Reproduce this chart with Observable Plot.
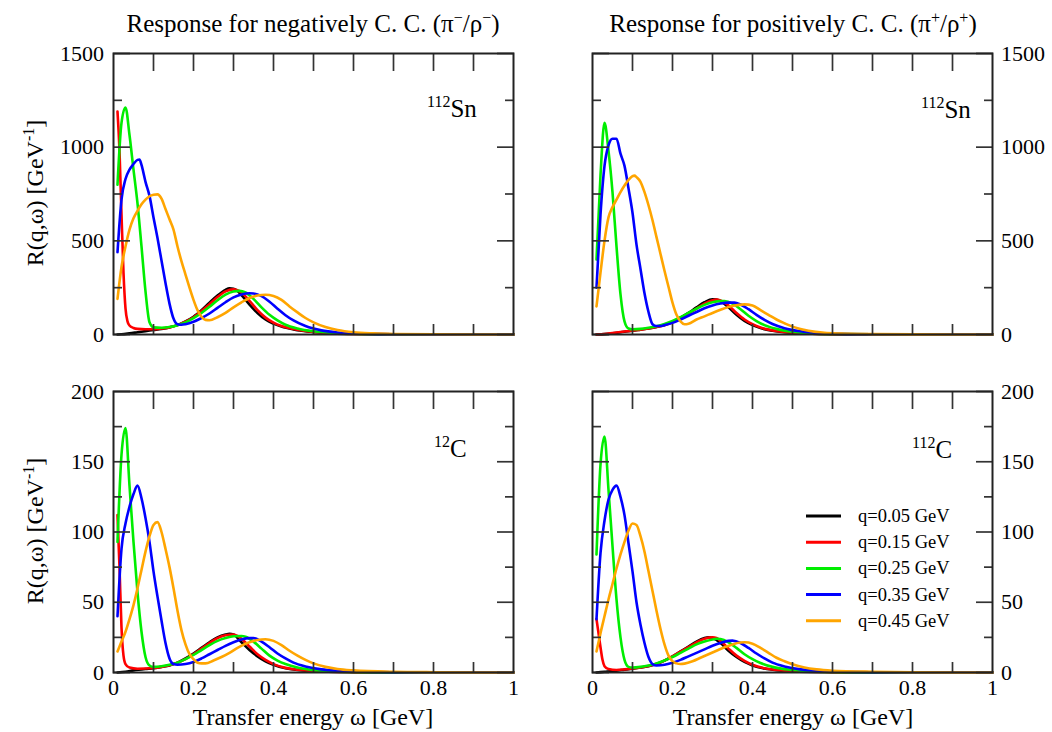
<!DOCTYPE html>
<html>
<head>
<meta charset="utf-8">
<script src="https://cdn.jsdelivr.net/npm/d3@7"></script>
<script src="https://cdn.jsdelivr.net/npm/@observablehq/plot@0.6"></script>
<style>
  html, body { margin: 0; padding: 0; background: #fff; }
  #chart { position: relative; width: 1052px; height: 732px; overflow: hidden; background: #fff; }
  #chart > svg { position: absolute; max-width: none; }
</style>
</head>
<body>
<div id="chart"></div>
<script>
// ---------------- categories ----------------
const qLabels = ["q=0.05 GeV", "q=0.15 GeV", "q=0.25 GeV", "q=0.35 GeV", "q=0.45 GeV"];
const lineColors = ["#000000", "#ff0000", "#00ee00", "#0000ff", "#ffa500"];

// ---------------- axis ticks ----------------
const xMajor = [0, 0.2, 0.4, 0.6, 0.8, 1];
const xAllTicks = [0.1, 0.2, 0.3, 0.4, 0.5, 0.6, 0.7, 0.8, 0.9];
const ySnMajor = [0, 500, 1000, 1500];
const ySnMinor = [250, 750, 1250];
const yCMajor = [0, 50, 100, 150, 200];
const yCMinor = [25, 75, 125, 175];

// ---------------- texts ----------------
const titleNeg = [["Response for negatively C. C. (π"], ["−", 1], ["/ρ"], ["−", 1], [")"]];
const titlePos = [["Response for positively C. C. (π"], ["+", 1], ["/ρ"], ["+", 1], [")"]];
const yLabel = [["R(q,ω) [GeV"], ["-1", 1], ["]"]];
const xLabel = "Transfer energy ω [GeV]";
const nucleusSn = [["112", 1], ["Sn"]];
const nucleusC12 = [["12", 1], ["C"]];
const nucleusC112 = [["112", 1], ["C"]];

// ---------------- series: negatively charged, 112Sn  [ω (GeV), R (GeV^-1)] ----------------
const negSn_q005 = [[0.01,0],[0.02,1],[0.04,6],[0.06,12],[0.08,18],[0.10,24],[0.12,30],[0.14,38],[0.16,50],[0.18,70],[0.20,95],[0.22,130],[0.24,170],[0.26,208],[0.28,238],[0.29,246],[0.30,244],[0.31,232],[0.32,210],[0.34,160],[0.36,115],[0.38,80],[0.40,58],[0.42,42],[0.45,27],[0.50,13],[0.55,6],[0.60,3],[0.70,1],[0.80,0.3],[1.0,0]];
const negSn_q015 = [[0.01,1190],[0.015,980],[0.02,640],[0.025,330],[0.03,140],[0.035,70],[0.04,48],[0.05,35],[0.06,30],[0.08,28],[0.10,28],[0.12,32],[0.14,38],[0.16,50],[0.18,68],[0.20,92],[0.22,125],[0.24,162],[0.26,200],[0.28,230],[0.30,241],[0.31,236],[0.32,224],[0.34,180],[0.36,130],[0.38,90],[0.40,63],[0.42,45],[0.45,29],[0.50,14],[0.55,7],[0.60,3],[0.70,1],[0.80,0.3],[1.0,0]];
const negSn_q025 = [[0.01,800],[0.02,1130],[0.03,1212],[0.04,1065],[0.05,880],[0.06,700],[0.07,470],[0.08,230],[0.09,65],[0.10,38],[0.12,36],[0.14,40],[0.16,50],[0.18,65],[0.20,88],[0.22,115],[0.24,148],[0.26,183],[0.28,213],[0.30,230],[0.315,233],[0.33,224],[0.35,190],[0.37,145],[0.39,105],[0.41,75],[0.43,52],[0.46,32],[0.50,17],[0.55,8],[0.60,4],[0.70,1],[0.80,0.3],[1.0,0]];
const negSn_q035 = [[0.01,440],[0.02,720],[0.03,830],[0.04,880],[0.05,910],[0.06,932],[0.065,934],[0.07,905],[0.08,815],[0.09,740],[0.10,625],[0.11,515],[0.12,395],[0.13,275],[0.14,165],[0.15,85],[0.16,55],[0.17,52],[0.18,55],[0.20,68],[0.22,88],[0.24,112],[0.26,142],[0.28,172],[0.30,198],[0.32,214],[0.34,220],[0.35,219],[0.37,205],[0.39,175],[0.41,138],[0.43,103],[0.45,75],[0.48,45],[0.52,22],[0.56,11],[0.60,6],[0.70,1.5],[0.80,0.5],[1.0,0]];
const negSn_q045 = [[0.01,190],[0.02,360],[0.03,470],[0.04,560],[0.05,620],[0.06,660],[0.07,695],[0.08,720],[0.09,738],[0.10,746],[0.11,748],[0.12,725],[0.13,670],[0.14,615],[0.15,560],[0.16,470],[0.17,390],[0.18,320],[0.19,250],[0.20,185],[0.21,130],[0.22,95],[0.23,78],[0.24,76],[0.26,92],[0.28,115],[0.30,145],[0.32,172],[0.34,195],[0.36,208],[0.38,212],[0.40,206],[0.42,185],[0.44,150],[0.46,118],[0.48,88],[0.50,65],[0.53,40],[0.56,24],[0.60,12],[0.65,6],[0.70,3],[0.80,1],[1.0,0]];

// ---------------- series: positively charged, 112Sn ----------------
const posSn_q005 = [[0.01,0],[0.03,2],[0.05,6],[0.08,15],[0.10,20],[0.12,26],[0.14,32],[0.16,40],[0.18,52],[0.20,68],[0.22,90],[0.24,115],[0.26,145],[0.28,172],[0.30,188],[0.31,187],[0.32,178],[0.34,145],[0.36,105],[0.38,72],[0.40,50],[0.42,34],[0.45,20],[0.50,9],[0.55,4],[0.60,2],[0.70,0.5],[1.0,0]];
const posSn_q015 = [[0.01,0],[0.03,3],[0.05,8],[0.08,16],[0.10,21],[0.12,26],[0.14,32],[0.16,40],[0.18,50],[0.20,65],[0.22,86],[0.24,110],[0.26,138],[0.28,165],[0.30,183],[0.31,186],[0.32,182],[0.34,155],[0.36,115],[0.38,80],[0.40,55],[0.42,37],[0.45,22],[0.50,10],[0.55,4],[0.60,2],[0.70,0.5],[1.0,0]];
const posSn_q025 = [[0.01,400],[0.02,850],[0.03,1130],[0.04,980],[0.05,760],[0.06,470],[0.07,214],[0.08,70],[0.09,32],[0.10,28],[0.12,30],[0.14,36],[0.16,44],[0.18,56],[0.20,72],[0.22,92],[0.24,115],[0.26,138],[0.28,158],[0.30,172],[0.32,178],[0.33,178],[0.35,165],[0.37,135],[0.39,100],[0.41,72],[0.43,50],[0.46,30],[0.50,15],[0.55,6],[0.60,3],[0.70,1],[1.0,0]];
const posSn_q035 = [[0.01,250],[0.02,640],[0.03,900],[0.04,1010],[0.05,1045],[0.06,1045],[0.07,965],[0.08,900],[0.09,780],[0.10,650],[0.11,480],[0.12,350],[0.13,220],[0.14,120],[0.15,55],[0.16,45],[0.17,45],[0.18,50],[0.20,62],[0.22,80],[0.24,100],[0.26,120],[0.28,140],[0.30,155],[0.32,165],[0.34,170],[0.355,170],[0.37,160],[0.39,135],[0.41,105],[0.43,78],[0.45,56],[0.48,34],[0.52,17],[0.56,8],[0.60,4],[0.70,1],[1.0,0]];
const posSn_q045 = [[0.01,150],[0.02,330],[0.03,500],[0.04,625],[0.05,680],[0.06,720],[0.07,760],[0.08,795],[0.09,825],[0.10,845],[0.105,848],[0.11,840],[0.12,815],[0.13,760],[0.14,690],[0.15,610],[0.16,520],[0.17,430],[0.18,340],[0.19,255],[0.20,170],[0.21,105],[0.22,70],[0.23,55],[0.24,58],[0.26,80],[0.28,97],[0.30,115],[0.32,132],[0.34,147],[0.36,156],[0.38,161],[0.40,155],[0.42,130],[0.44,105],[0.46,80],[0.48,60],[0.50,42],[0.54,20],[0.58,9],[0.62,5],[0.70,2],[0.80,0.5],[1.0,0]];

// ---------------- series: negatively charged, 12C ----------------
const negC_q005 = [[0.01,0],[0.03,0.5],[0.05,1.5],[0.08,2.5],[0.10,3],[0.12,4],[0.14,5],[0.16,7],[0.18,10],[0.20,13.5],[0.22,17.5],[0.24,21.5],[0.26,25],[0.28,27],[0.29,27.5],[0.30,27],[0.32,21.5],[0.34,16],[0.36,11.5],[0.38,8],[0.40,5.5],[0.43,3],[0.46,1.8],[0.50,0.9],[0.60,0.3],[0.70,0.1],[1.0,0]];
const negC_q015 = [[0.01,112],[0.015,75],[0.02,32],[0.025,12],[0.03,6],[0.04,3.5],[0.06,2.7],[0.08,2.8],[0.10,3.2],[0.12,4],[0.14,5.2],[0.16,7],[0.18,9.5],[0.20,13],[0.22,17],[0.24,21],[0.26,24.5],[0.28,26.5],[0.30,27],[0.31,26],[0.32,24],[0.34,18.5],[0.36,13],[0.38,9],[0.40,6],[0.43,3.3],[0.46,2],[0.50,1],[0.60,0.3],[0.70,0.1],[1.0,0]];
const negC_q025 = [[0.01,93],[0.02,155],[0.03,174],[0.04,133],[0.05,93],[0.06,57],[0.07,29],[0.08,11],[0.09,5],[0.10,4],[0.12,4.5],[0.14,5.5],[0.16,7],[0.18,9.5],[0.20,12.5],[0.22,16],[0.24,19.5],[0.26,22.5],[0.28,24.5],[0.30,25.8],[0.32,26],[0.33,25.5],[0.35,22],[0.37,17],[0.39,12],[0.41,8.5],[0.43,6],[0.46,3.5],[0.50,1.7],[0.55,0.8],[0.60,0.4],[0.70,0.1],[1.0,0]];
const negC_q035 = [[0.01,40],[0.02,88],[0.03,106],[0.04,118],[0.05,127],[0.06,133],[0.07,124],[0.08,110],[0.09,93],[0.10,72],[0.11,54],[0.12,37],[0.13,21],[0.14,10],[0.15,6],[0.16,5.5],[0.18,6],[0.20,7.5],[0.22,10],[0.24,13],[0.26,16],[0.28,19],[0.30,21.5],[0.32,23.5],[0.34,24.5],[0.35,24.5],[0.37,22],[0.39,18],[0.41,13.5],[0.43,10],[0.45,7],[0.48,4.3],[0.52,2.2],[0.56,1.2],[0.60,0.7],[0.70,0.2],[1.0,0]];
const negC_q045 = [[0.01,15],[0.02,22],[0.03,29],[0.04,38],[0.05,48],[0.06,60],[0.07,73],[0.08,86],[0.09,97],[0.10,105],[0.11,107],[0.12,100],[0.13,88],[0.14,75],[0.15,60],[0.16,44],[0.17,30],[0.18,20],[0.19,13],[0.20,9.5],[0.21,7],[0.22,6.5],[0.23,6.5],[0.25,8.5],[0.27,11],[0.29,14],[0.31,17.5],[0.33,20.5],[0.35,22.5],[0.37,23.5],[0.38,23.7],[0.40,22.5],[0.42,19.5],[0.44,15.5],[0.46,12],[0.48,9],[0.50,6.5],[0.53,4],[0.56,2.5],[0.60,1.5],[0.70,0.5],[0.80,0.2],[1.0,0]];

// ---------------- series: positively charged, 112C ----------------
const posC_q005 = [[0.01,0],[0.03,0.5],[0.05,1],[0.08,2],[0.10,2.7],[0.12,3.5],[0.14,4.5],[0.16,6],[0.18,8.5],[0.20,11.5],[0.22,15],[0.24,18.5],[0.26,22],[0.28,24.5],[0.29,25],[0.30,24.5],[0.32,21],[0.34,15.5],[0.36,11],[0.38,7.5],[0.40,5],[0.43,2.8],[0.46,1.6],[0.50,0.8],[0.60,0.3],[0.70,0.1],[1.0,0]];
const posC_q015 = [[0.01,38],[0.015,28],[0.02,18],[0.025,9],[0.03,4.5],[0.04,2.5],[0.06,1.8],[0.08,2.2],[0.10,2.8],[0.12,3.6],[0.14,4.7],[0.16,6.2],[0.18,8.5],[0.20,11.5],[0.22,14.8],[0.24,18],[0.26,21.5],[0.28,24],[0.30,25],[0.31,24.5],[0.32,22.5],[0.34,17],[0.36,12],[0.38,8.3],[0.40,5.5],[0.43,3],[0.46,1.8],[0.50,0.9],[0.60,0.3],[0.70,0.1],[1.0,0]];
const posC_q025 = [[0.01,84],[0.02,148],[0.03,168],[0.04,130],[0.05,90],[0.06,52],[0.07,25],[0.08,9],[0.09,4],[0.10,3.5],[0.12,4],[0.14,5],[0.16,6.5],[0.18,8.5],[0.20,11],[0.22,14],[0.24,17],[0.26,20],[0.28,22],[0.30,23.5],[0.31,24],[0.32,23.8],[0.34,21.5],[0.36,17.5],[0.38,13],[0.40,9.5],[0.42,6.8],[0.45,4],[0.50,1.8],[0.55,0.8],[0.60,0.4],[0.70,0.1],[1.0,0]];
const posC_q035 = [[0.01,38],[0.02,85],[0.03,108],[0.04,123],[0.05,130],[0.06,133],[0.07,125],[0.08,112],[0.09,92],[0.10,72],[0.11,50],[0.12,34],[0.13,21],[0.14,11],[0.15,6],[0.16,5],[0.18,5.5],[0.20,7],[0.22,9],[0.24,11.5],[0.26,14],[0.28,16.5],[0.30,19],[0.32,21],[0.34,22.5],[0.35,22.7],[0.37,21],[0.39,17.5],[0.41,13.5],[0.43,10],[0.45,7],[0.48,4.3],[0.52,2.2],[0.56,1.2],[0.60,0.7],[0.70,0.2],[1.0,0]];
const posC_q045 = [[0.01,15],[0.02,28],[0.03,40],[0.04,52],[0.05,63],[0.06,74],[0.07,84],[0.08,93],[0.09,101],[0.10,106],[0.11,105],[0.12,97],[0.13,86],[0.14,72],[0.15,58],[0.16,44],[0.17,31],[0.18,20],[0.19,12],[0.20,8],[0.21,6.5],[0.22,6],[0.23,6.3],[0.25,8],[0.27,10.5],[0.29,13],[0.31,15.5],[0.33,18],[0.35,20],[0.37,21.3],[0.38,21.5],[0.40,20.5],[0.42,17.5],[0.44,14],[0.46,10.5],[0.48,8],[0.50,5.8],[0.53,3.5],[0.56,2.2],[0.60,1.3],[0.70,0.5],[0.80,0.2],[1.0,0]];

// ---------------- build ----------------
const FONT = '"Liberation Serif", "Times New Roman", Times, serif';
const chart = document.getElementById("chart");

function toRows(seriesList) {
  return seriesList.flatMap((pts, i) => pts.map(([w, r]) => ({w, r, q: qLabels[i]})));
}

function makePanel(cfg) {
  const rows = toRows(cfg.series);
  const tickStroke = {stroke: "#333", strokeWidth: 1.7};
  const marks = [
    Plot.line(rows, {x: "w", y: "r", z: "q", stroke: "q", strokeWidth: 2.6, curve: "monotone-x"}),
    // inward ticks, left and right
    Plot.axisY({ticks: cfg.yMajor, anchor: "left", tickSize: 17, dx: 17, fill: "none", label: null, ...tickStroke}),
    Plot.axisY({ticks: cfg.yMinor, anchor: "left", tickSize: 9, dx: 9, fill: "none", label: null, ...tickStroke}),
    Plot.axisY({ticks: cfg.yMajor, anchor: "right", tickSize: 17, dx: -17, fill: "none", label: null, ...tickStroke}),
    Plot.axisY({ticks: cfg.yMinor, anchor: "right", tickSize: 9, dx: -9, fill: "none", label: null, ...tickStroke}),
    // inward ticks, top and bottom
    Plot.axisX({ticks: xAllTicks, anchor: "top", tickSize: 17, dy: 17, fill: "none", label: null, ...tickStroke}),
    Plot.axisX({ticks: xAllTicks, anchor: "bottom", tickSize: 10, dy: -10, fill: "none", label: null, ...tickStroke}),
    // y tick labels
    Plot.axisY({ticks: cfg.yMajor, anchor: cfg.side, tickSize: 0, tickPadding: cfg.side === "left" ? 9.5 : 8.5,
      tickFormat: d => String(d), label: null, fontSize: 22, fill: "#000"}),
    Plot.frame({stroke: "#222", strokeWidth: 2})
  ];
  if (cfg.showX) {
    marks.push(Plot.axisX({ticks: xMajor, anchor: "bottom", tickSize: 0, tickPadding: 7,
      tickFormat: d => String(d), label: null, fontSize: 22, fill: "#000"}));
  }
  const svg = Plot.plot({
    width: cfg.width, height: cfg.height,
    marginLeft: cfg.ml, marginRight: cfg.mr, marginTop: cfg.mt, marginBottom: cfg.mb,
    x: {domain: [0, 1], axis: null},
    y: {domain: cfg.yDomain, axis: null},
    color: {domain: qLabels, range: lineColors},
    style: {fontFamily: FONT, fontSize: "22px", background: "transparent", overflow: "visible", color: "#000"},
    marks
  });
  svg.style.left = cfg.left + "px";
  svg.style.top = cfg.top + "px";
  chart.appendChild(svg);
}

makePanel({series: [negSn_q005, negSn_q015, negSn_q025, negSn_q035, negSn_q045], yDomain: [0, 1500],
  yMajor: ySnMajor, yMinor: ySnMinor, side: "left", showX: false,
  left: 0, top: 0, width: 526, height: 360, ml: 113, mr: 13, mt: 53, mb: 26});
makePanel({series: [posSn_q005, posSn_q015, posSn_q025, posSn_q035, posSn_q045], yDomain: [0, 1500],
  yMajor: ySnMajor, yMinor: ySnMinor, side: "right", showX: false,
  left: 526, top: 0, width: 526, height: 360, ml: 66, mr: 60, mt: 53, mb: 26});
makePanel({series: [negC_q005, negC_q015, negC_q025, negC_q035, negC_q045], yDomain: [0, 200],
  yMajor: yCMajor, yMinor: yCMinor, side: "left", showX: true,
  left: 0, top: 360, width: 526, height: 372, ml: 113, mr: 13, mt: 31, mb: 60});
makePanel({series: [posC_q005, posC_q015, posC_q025, posC_q035, posC_q045], yDomain: [0, 200],
  yMajor: yCMajor, yMinor: yCMinor, side: "right", showX: true,
  left: 526, top: 360, width: 526, height: 372, ml: 66, mr: 60, mt: 31, mb: 60});

// ---------------- overlay texts & legend ----------------
const overlay = d3.select(chart).append("svg")
  .attr("width", 1052).attr("height", 732)
  .style("left", "0px").style("top", "0px")
  .style("pointer-events", "none")
  .attr("font-family", FONT);

function richText(parent, parts, size, supSize, supShift) {
  const t = parent.append("text").attr("font-size", size).attr("fill", "#000");
  let raised = false;
  parts.forEach(([s, sup]) => {
    const ts = t.append("tspan").text(s);
    if (sup && !raised) { ts.attr("dy", -supShift).attr("font-size", supSize); raised = true; }
    else if (sup) { ts.attr("font-size", supSize); }
    else if (raised) { ts.attr("dy", supShift); raised = false; }
  });
  return t;
}

richText(overlay, titleNeg, 25, 16, 9).attr("x", 313).attr("y", 32).attr("text-anchor", "middle");
richText(overlay, titlePos, 25, 16, 9).attr("x", 793).attr("y", 32).attr("text-anchor", "middle");

richText(overlay, yLabel, 24, 16, 9).attr("text-anchor", "middle").attr("transform", "translate(43,193) rotate(-90)");
richText(overlay, yLabel, 24, 16, 9).attr("text-anchor", "middle").attr("transform", "translate(43,531) rotate(-90)");

overlay.append("text").attr("x", 313).attr("y", 725).attr("text-anchor", "middle").attr("font-size", 24).text(xLabel);
overlay.append("text").attr("x", 793).attr("y", 725).attr("text-anchor", "middle").attr("font-size", 24).text(xLabel);

richText(overlay, nucleusSn, 25, 16, 10).attr("x", 427).attr("y", 117);
richText(overlay, nucleusSn, 25, 16, 10).attr("x", 921).attr("y", 118);
richText(overlay, nucleusC12, 25, 16, 10).attr("x", 434).attr("y", 457);
richText(overlay, nucleusC112, 25, 16, 10).attr("x", 912).attr("y", 458);

const legend = overlay.append("g");
qLabels.forEach((lab, i) => {
  const y = 516 + i * 26.2;
  legend.append("line").attr("x1", 806).attr("x2", 841).attr("y1", y).attr("y2", y)
    .attr("stroke", lineColors[i]).attr("stroke-width", 3);
  legend.append("text").attr("x", 858).attr("y", y + 6).attr("font-size", 18.5).attr("fill", "#000").text(lab);
});
</script>
</body>
</html>
